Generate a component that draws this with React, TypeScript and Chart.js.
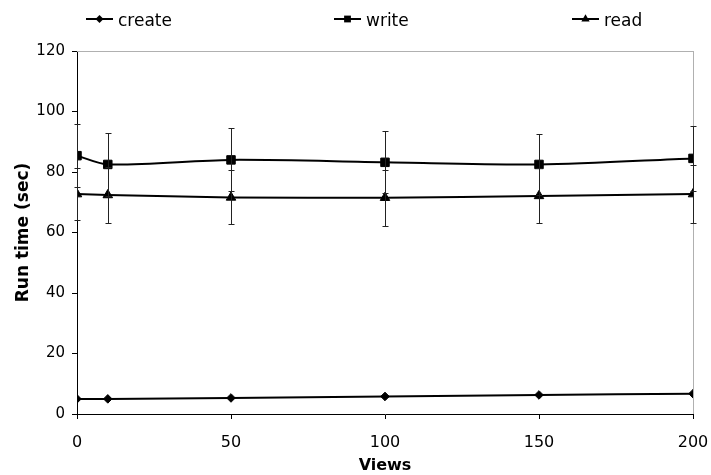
import React, { useEffect, useRef } from 'react';
import { Chart, registerables } from 'chart.js';

Chart.register(...registerables);

const views = [0, 10, 50, 100, 150, 200];
const createTimes = [5.0, 5.0, 5.3, 5.8, 6.3, 6.7];
const writeTimes = [85.4, 82.5, 84.0, 83.2, 82.5, 84.5];
const writeErr = [10.5, 10.3, 10.4, 10.2, 10.2, 10.7];
const readTimes = [72.7, 72.4, 71.6, 71.5, 72.1, 72.7];
const readErr = [8.7, 9.3, 8.9, 9.2, 9.1, 9.5];
const seriesLabels = ['create', 'write', 'read'];
const xTitle = 'Views';
const yTitle = 'Run time (sec)';

const FONT = '"DejaVu Sans", Verdana, sans-serif';

function drawMarker(ctx: CanvasRenderingContext2D, style: string, x: number, y: number, r: number) {
  ctx.beginPath();
  if (style === 'rectRot') {
    ctx.moveTo(x - r, y);
    ctx.lineTo(x, y - r);
    ctx.lineTo(x + r, y);
    ctx.lineTo(x, y + r);
  } else if (style === 'rect') {
    const s = Math.SQRT1_2 * r;
    ctx.rect(x - s, y - s, 2 * s, 2 * s);
  } else {
    const a = (2 * Math.PI) / 3;
    ctx.moveTo(x, y - r);
    ctx.lineTo(x + Math.sin(a) * r, y - Math.cos(a) * r);
    ctx.lineTo(x + Math.sin(2 * a) * r, y - Math.cos(2 * a) * r);
  }
  ctx.closePath();
  ctx.fill();
}

export default function App() {
  const ref = useRef<HTMLCanvasElement>(null);

  useEffect(() => {
    if (!ref.current) return;
    const errs: (number[] | null)[] = [null, writeErr, readErr];
    const styles = ['rectRot', 'rect', 'triangle'];

    const frame = {
      id: 'frame',
      beforeDatasetsDraw(chart: any) {
        const { ctx, chartArea } = chart;
        ctx.save();
        ctx.strokeStyle = '#b0b0b0';
        ctx.lineWidth = 1;
        ctx.beginPath();
        ctx.moveTo(chartArea.left, Math.round(chartArea.top) + 0.5);
        ctx.lineTo(chartArea.right, Math.round(chartArea.top) + 0.5);
        ctx.moveTo(Math.round(chartArea.right) + 0.5, chartArea.top);
        ctx.lineTo(Math.round(chartArea.right) + 0.5, chartArea.bottom);
        ctx.stroke();
        ctx.restore();
      },
    };

    const errorBars = {
      id: 'errorBars',
      afterDatasetsDraw(chart: any) {
        const { ctx } = chart;
        const xs = chart.scales.x;
        const ys = chart.scales.y;
        ctx.save();
        ctx.strokeStyle = '#222';
        ctx.lineWidth = 1;
        chart.data.datasets.forEach((ds: any, di: number) => {
          const e = errs[di];
          if (!e) return;
          ds.data.forEach((p: any, i: number) => {
            const x = Math.round(xs.getPixelForValue(p.x)) + 0.5;
            const yTop = Math.round(ys.getPixelForValue(p.y + e[i])) + 0.5;
            const yBot = Math.round(ys.getPixelForValue(p.y - e[i])) + 0.5;
            ctx.beginPath();
            ctx.moveTo(x, yTop);
            ctx.lineTo(x, yBot);
            ctx.moveTo(x - 3, yTop);
            ctx.lineTo(x + 3, yTop);
            ctx.moveTo(x - 3, yBot);
            ctx.lineTo(x + 3, yBot);
            ctx.stroke();
          });
        });
        ctx.restore();
      },
    };

    const legend = {
      id: 'customLegend',
      afterDraw(chart: any) {
        const { ctx } = chart;
        const starts = [86, 334, 572];
        const y = 19;
        ctx.save();
        ctx.font = `17px ${FONT}`;
        ctx.textBaseline = 'alphabetic';
        ctx.textAlign = 'left';
        seriesLabels.forEach((lab, i) => {
          const x0 = starts[i];
          ctx.strokeStyle = '#000';
          ctx.lineWidth = 2;
          ctx.beginPath();
          ctx.moveTo(x0, y);
          ctx.lineTo(x0 + 27, y);
          ctx.stroke();
          ctx.fillStyle = '#000';
          const r = styles[i] === 'rect' ? 4.8 : styles[i] === 'triangle' ? 4.8 : 4;
          drawMarker(ctx, styles[i], x0 + 13.5, y, r);
          ctx.fillText(lab, x0 + 32, 26);
        });
        ctx.restore();
      },
    };

    const mk = (vals: number[]) => views.map((v, i) => ({ x: v, y: vals[i] }));

    const chart = new Chart(ref.current, {
      type: 'line',
      data: {
        datasets: [
          {
            label: seriesLabels[0],
            data: mk(createTimes),
            borderColor: '#000',
            backgroundColor: '#000',
            borderWidth: 2,
            pointStyle: 'rectRot',
            pointRadius: 4.3,
            pointBorderWidth: 1,
            tension: 0.3,
          },
          {
            label: seriesLabels[1],
            data: mk(writeTimes),
            borderColor: '#000',
            backgroundColor: '#000',
            borderWidth: 2,
            pointStyle: 'rect',
            pointRadius: 6,
            pointBorderWidth: 1,
            tension: 0.3,
          },
          {
            label: seriesLabels[2],
            data: mk(readTimes),
            borderColor: '#000',
            backgroundColor: '#000',
            borderWidth: 2,
            pointStyle: 'triangle',
            pointRadius: 5.5,
            pointBorderWidth: 1,
            tension: 0.3,
          },
        ],
      },
      options: {
        responsive: false,
        animation: false,
        layout: { padding: { top: 51, right: 18, left: 0, bottom: 0 } },
        plugins: { legend: { display: false }, tooltip: { enabled: false } },
        scales: {
          x: {
            type: 'linear',
            min: 0,
            max: 200,
            afterFit: (s: any) => { s.height = 61; s.paddingLeft = 0; s.paddingRight = 0; },
            ticks: { stepSize: 50, color: '#000', font: { family: FONT, size: 16 }, padding: 14, maxRotation: 0 },
            grid: { display: true, drawOnChartArea: false, color: '#000', tickColor: '#000', tickLength: 5 },
            border: { display: true, color: '#000', width: 1 },
            title: { display: true, text: xTitle, color: '#000', font: { family: FONT, size: 16, weight: 'bold' }, padding: { top: 0, bottom: 0 } },
          },
          y: {
            min: 0,
            max: 120,
            afterFit: (s: any) => { s.width = 77; },
            ticks: { stepSize: 20, color: '#000', font: { family: FONT, size: 15 }, padding: 7 },
            grid: { display: true, drawOnChartArea: false, color: '#000', tickColor: '#000', tickLength: 5 },
            border: { display: true, color: '#000', width: 1 },
            title: { display: true, text: yTitle, color: '#000', font: { family: FONT, size: 17, weight: 'bold' }, padding: { top: 13, bottom: 0 } },
          },
        },
      },
      plugins: [frame, errorBars, legend],
    } as any);
    return () => chart.destroy();
  }, []);

  return (
    <div style={{ position: 'absolute', left: 0, top: 0, width: 711, height: 475, background: '#fff' }}>
      <canvas ref={ref} width={711} height={475} style={{ display: 'block' }} />
    </div>
  );
}
